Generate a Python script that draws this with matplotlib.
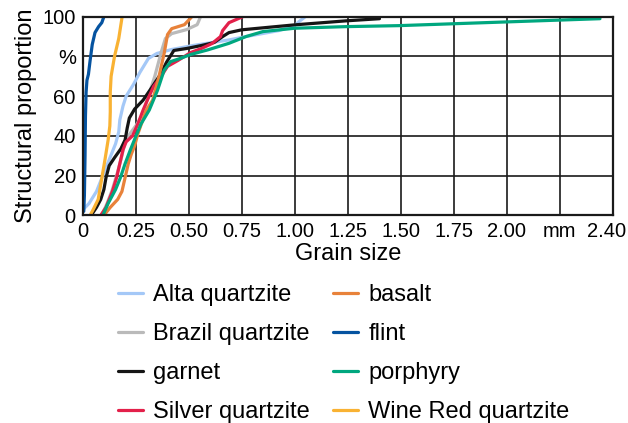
import matplotlib
matplotlib.use("Agg")
import matplotlib.pyplot as plt

plt.rcParams['font.family'] = ['Liberation Sans', 'DejaVu Sans']

# grain size (mm) vs cumulative structural proportion (%)
alta_x = [0.003, 0.03, 0.065, 0.095, 0.125, 0.155, 0.17, 0.175, 0.19, 0.205, 0.24, 0.27, 0.31, 0.35, 0.42, 0.52, 0.61, 0.69, 0.77, 0.925, 1.0, 1.02, 1.05]
alta_y = [3, 6, 12, 20, 28, 36, 42, 48, 55, 60, 66, 72, 79, 81.5, 83.5, 85.5, 87, 88.3, 90, 93, 95.5, 97.5, 100]

brazil_x = [0.09, 0.115, 0.14, 0.165, 0.185, 0.2, 0.215, 0.25, 0.28, 0.31, 0.34, 0.37, 0.39, 0.42, 0.49, 0.54, 0.556]
brazil_y = [0, 6, 13, 22, 30, 37, 40, 45, 50, 60, 70, 82, 89, 91.5, 93.5, 96, 100]

garnet_x = [0.04, 0.065, 0.085, 0.1, 0.11, 0.125, 0.15, 0.18, 0.2, 0.21, 0.22, 0.245, 0.285, 0.33, 0.37, 0.395, 0.43, 0.49, 0.56, 0.62, 0.66, 0.69, 0.75, 1.0, 1.24, 1.40]
garnet_y = [0, 4, 8, 13, 19, 25, 29, 33.5, 38, 44, 49, 53.5, 58, 65, 71.5, 77, 83, 84, 85.5, 87, 90, 92, 93.4, 95.9, 97.9, 99]

silver_x = [0.085, 0.11, 0.14, 0.16, 0.175, 0.19, 0.205, 0.235, 0.26, 0.285, 0.305, 0.335, 0.37, 0.40, 0.45, 0.51, 0.56, 0.61, 0.65, 0.66, 0.69, 0.755]
silver_y = [0, 4, 12, 19, 26, 33, 37, 40, 46, 53, 58, 65, 70, 75, 78, 82, 84, 86.5, 90, 93, 97, 100]

basalt_x = [0.10, 0.13, 0.165, 0.185, 0.2, 0.215, 0.23, 0.245, 0.26, 0.28, 0.30, 0.33, 0.36, 0.385, 0.40, 0.42, 0.48, 0.515]
basalt_y = [0, 4, 8, 12, 19, 26, 31, 35, 41, 47, 53, 58, 70, 82, 91, 94, 96, 100]

flint_x = [0.005, 0.008, 0.011, 0.013, 0.016, 0.02, 0.027, 0.035, 0.045, 0.058, 0.075, 0.09, 0.10]
flint_y = [2, 10, 30, 50, 62, 68, 71, 78, 86, 92, 95, 97, 100]

porphyry_x = [0.095, 0.12, 0.155, 0.178, 0.2, 0.225, 0.25, 0.275, 0.314, 0.353, 0.384, 0.415, 0.46, 0.51, 0.59, 0.69, 0.77, 0.85, 1.0, 1.24, 1.49, 2.44]
porphyry_y = [0, 6, 13, 19, 26, 33, 39.6, 46, 53, 63, 73, 77.4, 79, 81, 83.3, 86.6, 90, 92.5, 94.2, 95, 95.5, 99]

winered_x = [0.035, 0.05, 0.073, 0.089, 0.105, 0.12, 0.128, 0.13, 0.13, 0.134, 0.15, 0.17, 0.186]
winered_y = [0, 3, 8, 18, 28, 38, 45, 52, 62, 70, 80, 89, 100]

series = [
    ("Alta quartzite", alta_x, alta_y, "#a4c8f7"),
    ("Brazil quartzite", brazil_x, brazil_y, "#bababa"),
    ("garnet", garnet_x, garnet_y, "#151515"),
    ("Silver quartzite", silver_x, silver_y, "#e3204a"),
    ("basalt", basalt_x, basalt_y, "#e8823a"),
    ("flint", flint_x, flint_y, "#0553a0"),
    ("porphyry", porphyry_x, porphyry_y, "#00a77f"),
    ("Wine Red quartzite", winered_x, winered_y, "#f9b233"),
]

xticks = [0, 0.25, 0.5, 0.75, 1.0, 1.25, 1.5, 1.75, 2.0, 2.25, 2.47]
xlabels = ["0", "0.25", "0.50", "0.75", "1.00", "1.25", "1.50", "1.75", "2.00", "mm", "2.40"]
yticks = [0, 20, 40, 60, 80, 100]
ylabels = ["0", "20", "40", "60", "%", "100"]

fig = plt.figure(figsize=(6.28, 4.23), dpi=100)
ax = fig.add_axes([0.1317, 0.491, 0.8439, 0.4695])

for name, xs, ys, col in series:
    ax.plot(xs, ys, color=col, lw=2.3, label=name, solid_capstyle='round')

ax.set_xlim(0, 2.5)
ax.set_ylim(0, 100)
for v in [0.25, 0.5, 0.75, 1.0, 1.25, 1.5, 1.75, 2.0, 2.25]:
    ax.axvline(v, color="#1a1a1a", lw=1.2, zorder=0)
for v in [20, 40, 60, 80]:
    ax.axhline(v, color="#1a1a1a", lw=1.2, zorder=0)
for s in ax.spines.values():
    s.set_linewidth(1.6)
    s.set_color("#1a1a1a")

ax.set_xticks(xticks)
ax.set_xticklabels(xlabels, fontsize=14.5)
ax.set_yticks(yticks)
ax.set_yticklabels(ylabels, fontsize=14.5)
ax.tick_params(length=0, pad=5)

ax.set_xlabel("Grain size", fontsize=17, labelpad=1)
ax.set_ylabel("Structural proportion", fontsize=17, labelpad=4)

fig.legend(loc="upper left", bbox_to_anchor=(0.1875, 0.328), ncol=2, frameon=False,
           fontsize=17, handlelength=1.05, handletextpad=0.45, columnspacing=0.97,
           labelspacing=0.72, borderpad=0, borderaxespad=0)

fig.savefig("out.png", dpi=100)
